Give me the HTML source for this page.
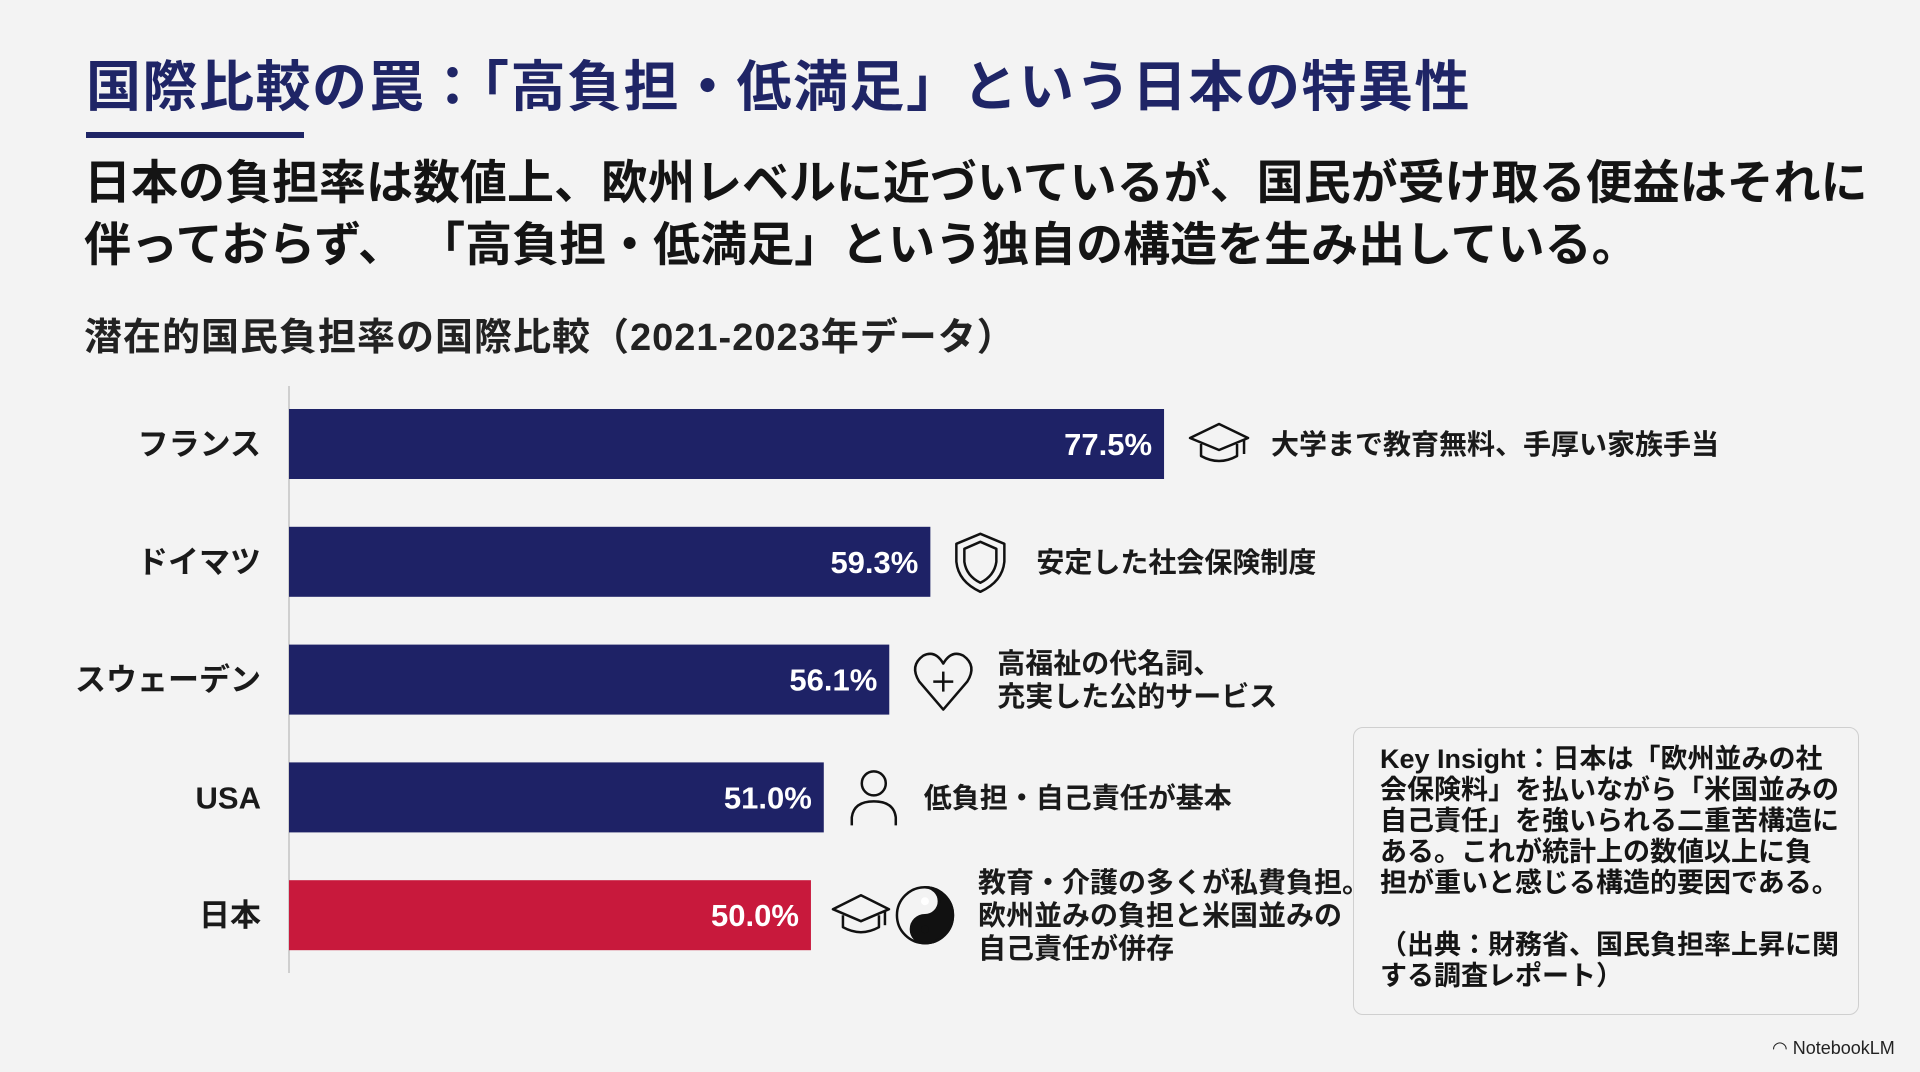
<!DOCTYPE html>
<html><head><meta charset="utf-8">
<style>
body{margin:0;width:1920px;height:1072px;background:#f3f3f3;overflow:hidden;position:relative;font-family:"Liberation Sans","Noto Sans CJK JP",sans-serif;color:#111;}
.abs{position:absolute;white-space:nowrap;}
#title{left:86px;top:52px;font-size:55px;font-weight:bold;color:#1f2566;line-height:70px;letter-spacing:1.5px;}
#uline{left:86px;top:132px;width:218px;height:6px;background:#1f2566;}
#sub{left:84px;top:152px;font-size:47px;font-weight:bold;line-height:62px;color:#141414;}
#ctitle{left:84px;top:313px;font-size:38px;font-weight:bold;line-height:50px;color:#222;letter-spacing:1px;}
#box{left:1353px;top:727px;width:504px;height:286px;border:1.5px solid #cfcfcf;border-radius:10px;background:#f3f3f3;}
#boxtext{left:1380px;top:744px;font-size:27px;font-weight:bold;line-height:31px;color:#151515;}
#logo{left:1772px;top:1038px;font-size:18px;color:#222;}
svg{position:absolute;left:0;top:0;}
</style></head><body>
<div class="abs" id="title">国際比較の罠：「高負担・低満足」という日本の特異性</div>
<div class="abs" id="uline"></div>
<div class="abs" id="sub">日本の負担率は数値上、欧州レベルに近づいているが、国民が受け取る便益はそれに<br>伴っておらず、 「高負担・低満足」という独自の構造を生み出している。</div>
<div class="abs" id="ctitle">潜在的国民負担率の国際比較（2021-2023年データ）</div>
<div class="abs" id="box"></div>
<div class="abs" id="boxtext">Key Insight：日本は「欧州並みの社<br>会保険料」を払いながら「米国並みの<br>自己責任」を強いられる二重苦構造に<br>ある。これが統計上の数値以上に負<br>担が重いと感じる構造的要因である。<br><br>（出典：財務省、国民負担率上昇に関<br>する調査レポート）</div>
<div class="abs" id="logo">◠ NotebookLM</div>
<svg id="chart" width="1920" height="1072"></svg>
<script>
const categories=["フランス","ドイマツ","スウェーデン","USA","日本"];
const values=[77.5,59.3,56.1,51.0,50.0];
const valueLabels=["77.5%","59.3%","56.1%","51.0%","50.0%"];
const notes=[["大学まで教育無料、手厚い家族手当"],["安定した社会保険制度"],["高福祉の代名詞、","充実した公的サービス"],["低負担・自己責任が基本"],["教育・介護の多くが私費負担。","欧州並みの負担と米国並みの","自己責任が併存"]];
const icons=["cap","shield","heart","person","capyin"];
const NS="http://www.w3.org/2000/svg";
const svg=document.getElementById('chart');
const x0=289, dMin=9.35, pxPer=12.84;
function xs(v){return x0+(v-dMin)*pxPer;}
function yb(i){return 409+i*117.8;}
const bh=70;
function mk(tag,attrs,parent){const e=document.createElementNS(NS,tag);for(const k in attrs)e.setAttribute(k,attrs[k]);(parent||svg).appendChild(e);return e;}
const axis=mk('line',{x1:x0,y1:386,x2:x0,y2:973,stroke:'#cfcfcf','stroke-width':2});


function drawIcon(type,x,cy){
  const g=mk('g',{fill:'none',stroke:'#111','stroke-width':2.5,'stroke-linejoin':'round'});
  
  
  if(type==='cap'||type==='capyin'){
    const w=type==='cap'?58:56, cx=x+w/2;
    mk('path',{d:`M${x} ${cy-6} L${cx} ${cy-20} L${x+w} ${cy-6} L${cx} ${cy+6} Z`},g);
    mk('path',{d:`M${cx-18} ${cy} L${cx-18} ${cy+12} Q${cx} ${cy+22} ${cx+18} ${cy+12} L${cx+18} ${cy}`},g);
    mk('line',{x1:x+w-4,y1:cy-5,x2:x+w-4,y2:cy+10},g);
    if(type==='capyin'){
      const yx=x+92, r=28;
      mk('circle',{cx:yx,cy:cy,r:r},g);
      mk('path',{d:`M${yx} ${cy-r} A${r} ${r} 0 0 1 ${yx} ${cy+r} A${r/2} ${r/2} 0 0 1 ${yx} ${cy} A${r/2} ${r/2} 0 0 0 ${yx} ${cy-r} Z`,fill:'#111'},g);
      mk('circle',{cx:yx,cy:cy-r/2,r:4,fill:'#fff',stroke:'none'},g);
      mk('circle',{cx:yx,cy:cy+r/2,r:4,fill:'#111',stroke:'none'},g);
    }
  }else if(type==='shield'){
    mk('path',{d:`M${x+24} ${cy-28} L${x+48} ${cy-18} L${x+48} ${cy} Q${x+46} ${cy+20} ${x+24} ${cy+30} Q${x+2} ${cy+20} ${x} ${cy} L${x} ${cy-18} Z`},g);
    mk('path',{d:`M${x+24} ${cy-20} L${x+40} ${cy-13} L${x+40} ${cy} Q${x+38} ${cy+14} ${x+24} ${cy+21} Q${x+10} ${cy+14} ${x+8} ${cy} L${x+8} ${cy-13} Z`},g);
  }else if(type==='heart'){
    mk('path',{d:`M${x+28} ${cy+30} L${x+4} ${cy+2} Q${x-6} ${cy-14} ${x+8} ${cy-24} Q${x+20} ${cy-30} ${x+28} ${cy-16} Q${x+36} ${cy-30} ${x+48} ${cy-24} Q${x+62} ${cy-14} ${x+52} ${cy+2} Z`},g);
    mk('line',{x1:x+28,y1:cy-8,x2:x+28,y2:cy+12},g);
    mk('line',{x1:x+18,y1:cy+2,x2:x+38,y2:cy+2},g);
  }else if(type==='person'){
    mk('circle',{cx:x+24,cy:cy-14,r:12},g);
    mk('path',{d:`M${x+2} ${cy+28} L${x+2} ${cy+20} Q${x+4} ${cy+4} ${x+24} ${cy+4} Q${x+44} ${cy+4} ${x+46} ${cy+20} L${x+46} ${cy+28}`},g);
  }
}
categories.forEach((c,i)=>{
  const y=yb(i), xe=xs(values[i]), cy=y+bh/2;
  const r=mk('rect',{x:x0,y:y,width:xe-x0,height:bh,fill:i===4?'#c8193c':'#1e2266'});
  
  
  const cl=mk('text',{x:261,y:cy+11,'text-anchor':'end','font-size':31,'font-weight':'bold',fill:'#1a1a1a'});
  cl.textContent=c;
  
  
  const vl=mk('text',{x:xe-12,y:cy+11,'text-anchor':'end','font-size':31,'font-weight':'bold',fill:'#fff'});
  vl.textContent=valueLabels[i];
  
  
  const ix=xe+(icons[i]==='capyin'?22:26);
  drawIcon(icons[i],ix,cy);
  const tx=ix+(icons[i]==='capyin'?145:icons[i]==='cap'?81:icons[i]==='shield'?80:icons[i]==='heart'?82:74);
  const lines=notes[i], lh=33, start=cy+10-(lines.length-1)*lh/2;
  lines.forEach((t,j)=>{
    const n=mk('text',{x:tx,y:start+j*lh,'font-size':28,'font-weight':'bold',fill:'#1a1a1a'});
    n.textContent=t;
    
    
  });
});
</script>
</body></html>
